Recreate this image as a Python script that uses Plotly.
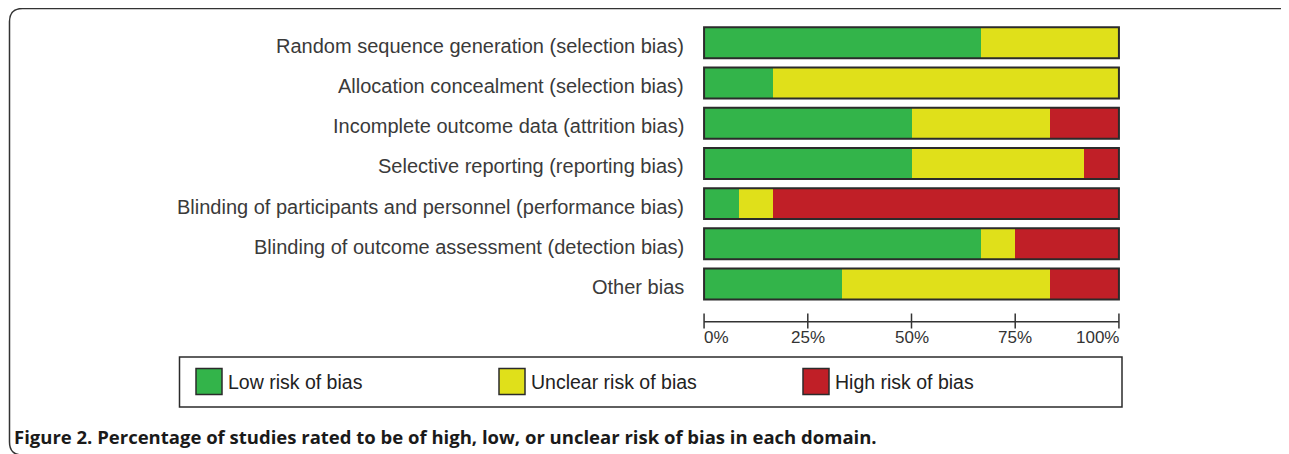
import plotly.graph_objects as go

# ---------------- data ----------------
domains = [
    "Random sequence generation (selection bias)",
    "Allocation concealment (selection bias)",
    "Incomplete outcome data (attrition bias)",
    "Selective reporting (reporting bias)",
    "Blinding of participants and personnel (performance bias)",
    "Blinding of outcome assessment (detection bias)",
    "Other bias",
]
low_risk = [66.7, 16.7, 50.0, 50.0, 8.3, 66.7, 33.3]
unclear_risk = [33.3, 83.3, 33.3, 41.7, 8.3, 8.3, 50.0]
high_risk = [0.0, 0.0, 16.7, 8.3, 83.3, 25.0, 16.7]
series_names = ["Low risk of bias", "Unclear risk of bias", "High risk of bias"]
tick_values = [0, 25, 50, 75, 100]
tick_labels = ["0%", "25%", "50%", "75%", "100%"]
caption = "Figure 2. Percentage of studies rated to be of high, low, or unclear risk of bias in each domain."

# ---------------- style ----------------
colors = ["#33b44a", "#e0e01a", "#c01f27"]
OFF = 8  # page body margin
W, H = 1289 - OFF, 454 - OFF
L, R, T, B = 694, 168, 15, 132
PW, PH = W - L - R, H - T - B
BAR_W = 0.77
LABEL_FONT = "Liberation Sans, Arial, sans-serif"
DARK = "#2b2b2b"


def px(x):  # page pixel -> paper fraction
    return (x - OFF - L) / PW


def py(y):
    return (H - B - (y - OFF)) / PH


fig = go.Figure()
for name, vals, col in zip(series_names, [low_risk, unclear_risk, high_risk], colors):
    fig.add_trace(go.Bar(
        y=domains, x=vals, name=name, orientation="h",
        marker=dict(color=col, line=dict(width=0)),
        width=BAR_W, showlegend=False, hoverinfo="x+y",
    ))

shapes = []
annotations = []
# outline around each whole bar + domain labels
for i, dom in enumerate(domains):
    shapes.append(dict(type="rect", xref="x", yref="y",
                       x0=tick_values[0], x1=tick_values[-1],
                       y0=i - BAR_W / 2, y1=i + BAR_W / 2,
                       line=dict(color=DARK, width=2), fillcolor="rgba(0,0,0,0)"))
    annotations.append(dict(x=px(686), y=dom, xref="paper", yref="y", text=dom,
                            showarrow=False, xanchor="right", yanchor="middle", yshift=-3,
                            font=dict(family=LABEL_FONT, size=20, color="#3a3a3a")))
# axis line and crossing ticks
axis_y = py(321.7)
shapes.append(dict(type="line", xref="x", yref="paper",
                   x0=tick_values[0], x1=tick_values[-1], y0=axis_y, y1=axis_y,
                   line=dict(color="#333333", width=1.5)))
for v in tick_values:
    shapes.append(dict(type="line", xref="x", yref="paper",
                       x0=v, x1=v, y0=py(313.5), y1=py(328.5),
                       line=dict(color="#333333", width=1.5)))

for v, lab in zip(tick_values, tick_labels):
    anchor = "left" if v == tick_values[0] else ("right" if v == tick_values[-1] else "center")
    annotations.append(dict(x=v, y=py(337), xref="x", yref="paper", text=lab,
                            showarrow=False, xanchor=anchor, yanchor="middle",
                            xshift=-2 if anchor == "left" else (2 if anchor == "right" else 0),
                            font=dict(family=LABEL_FONT, size=17, color="#333333")))

# legend box
shapes.append(dict(type="rect", xref="paper", yref="paper",
                   x0=px(179.5), x1=px(1122), y0=py(357), y1=py(407),
                   line=dict(color=DARK, width=1.5), fillcolor="white"))
legend_x = [196, 499, 803]
for lx, name, col in zip(legend_x, series_names, colors):
    shapes.append(dict(type="rect", xref="paper", yref="paper",
                       x0=px(lx), x1=px(lx + 26), y0=py(368.5), y1=py(394.5),
                       line=dict(color=DARK, width=1.5), fillcolor=col))
    annotations.append(dict(x=px(lx + 30), y=py(381.5), xref="paper", yref="paper",
                            text=name, showarrow=False, xanchor="left", yanchor="middle",
                            font=dict(family=LABEL_FONT, size=19.5, color="#222222")))

# outer rounded frame
x0, y0, x1, y1, r = 9.5, 8.5, 1297, 455, 13
fx = lambda x: f"{px(x):.5f}"
fy = lambda y: f"{py(y):.5f}"
path = (f"M {fx(x0 + r)},{fy(y0)} L {fx(x1 - r)},{fy(y0)} Q {fx(x1)},{fy(y0)} {fx(x1)},{fy(y0 + r)} "
        f"L {fx(x1)},{fy(y1 - r)} Q {fx(x1)},{fy(y1)} {fx(x1 - r)},{fy(y1)} "
        f"L {fx(x0 + r)},{fy(y1)} Q {fx(x0)},{fy(y1)} {fx(x0)},{fy(y1 - r)} "
        f"L {fx(x0)},{fy(y0 + r)} Q {fx(x0)},{fy(y0)} {fx(x0 + r)},{fy(y0)} Z")
shapes.append(dict(type="path", xref="paper", yref="paper", path=path,
                   line=dict(color="#333333", width=1.5), fillcolor="rgba(0,0,0,0)", layer="below"))

annotations.append(dict(x=px(12), y=py(436), xref="paper", yref="paper", text=caption,
                        showarrow=False, xanchor="left", yanchor="middle",
                        font=dict(family="Open Sans, sans-serif", size=18.5, weight=700, color="#1a1a1a")))

fig.update_layout(
    width=W, height=H,
    margin=dict(l=L, r=R, t=T, b=B, autoexpand=False),
    barmode="stack",
    paper_bgcolor="white", plot_bgcolor="white",
    xaxis=dict(range=[-0.5, 100.5], showgrid=False, zeroline=False, showline=False,
               showticklabels=False, ticks=""),
    yaxis=dict(range=[6.944, -0.493], showgrid=False, zeroline=False, showline=False,
               ticks="", showticklabels=False),
    shapes=shapes, annotations=annotations, showlegend=False,
)

fig.write_html("out.html")
